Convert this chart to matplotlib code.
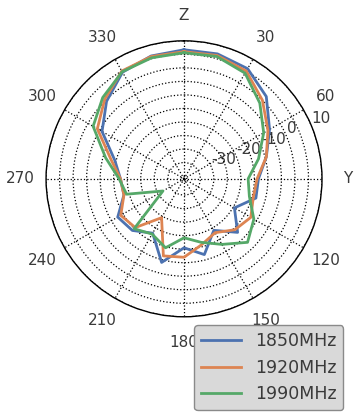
import numpy as np
import matplotlib
matplotlib.use('Agg')
import matplotlib.pyplot as plt

# angles in degrees (clockwise from Z axis), gain in dB
angles = [0, 15, 30, 45, 60, 75, 90, 105, 120, 135, 150, 165,
          180, 195, 210, 225, 240, 255, 270, 285, 300, 315, 330, 345]

gain_1850 = [6.7, 6.8, 6.0, 2.0, -4.5, -9.5, -13.5, -13.5, -19.5, -13.0, -19.0, -12.0,
             -15.5, -9.0, -17.8, -14.0, -12.7, -18.0, -17.5, -14.5, -6.0, -0.5, 4.5, 6.0]
gain_1920 = [6.0, 6.2, 5.0, 0.0, -5.2, -9.5, -14.0, -14.5, -12.5, -14.4, -18.0, -15.8,
             -12.0, -11.5, -24.4, -15.5, -14.0, -18.0, -17.5, -13.0, -4.0, 0.5, 5.0, 5.8]
gain_1990 = [5.6, 5.8, 4.1, -1.4, -7.0, -12.5, -17.3, -16.0, -11.2, -7.8, -13.0, -16.7,
             -19.2, -14.6, -17.4, -14.9, -32.0, -19.0, -17.0, -11.0, -2.2, 1.5, 4.7, 5.3]

labels = ['1850MHz', '1920MHz', '1990MHz']
colors = ['#4C72B0', '#DD8452', '#55A868']

theta_labels = ['Z', '30', '60', 'Y', '120', '150', '180', '210', '240', '270', '300', '330']
r_ticks = [-40, -35, -30, -25, -20, -15, -10, -5, 0, 5, 10]
r_labels = ['', '', '-30', '', '-20', '', '-10', '', '0', '', '10']

txt = '#3a3a3a'
plt.rcParams['font.family'] = 'DejaVu Sans'
plt.rcParams['text.color'] = txt
plt.rcParams['xtick.color'] = txt
plt.rcParams['ytick.color'] = txt

fig = plt.figure(figsize=(3.57, 4.12), dpi=100)
ax = fig.add_axes([0.129, 0.231, 0.773, 0.670], projection='polar')
ax.set_theta_zero_location('N')
ax.set_theta_direction(-1)

th = np.radians(angles + [angles[0]])
for g, lab, c in zip([gain_1850, gain_1920, gain_1990], labels, colors):
    ax.plot(th, g + [g[0]], color=c, lw=2, label=lab, zorder=3)

ax.set_ylim(-41, 10)
ax.set_yticks(r_ticks)
ax.set_yticklabels(r_labels, fontsize=11)
ax.set_rlabel_position(67.5)
ax.set_xticks(np.radians(np.arange(0, 360, 30)))
ax.set_xticklabels(theta_labels, fontsize=11)
ax.tick_params(axis='x', pad=8)
ax.grid(True, color='k', linestyle=':', linewidth=0.9)
ax.spines['polar'].set_color('k')
ax.spines['polar'].set_linewidth(1.0)

# legend sits in the figure's lower right corner, over the 150/180 labels
leg = fig.legend(loc='lower right', bbox_to_anchor=(0.962, 0.004), borderaxespad=0,
                 fontsize=12.5, handlelength=2.3,
                 facecolor='#d9d9d9', edgecolor='#8a8a8a', framealpha=1)

fig.savefig('out.png', dpi=100)
